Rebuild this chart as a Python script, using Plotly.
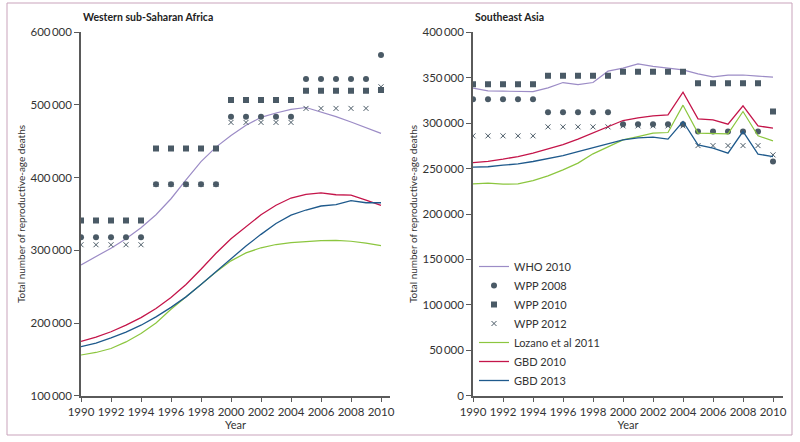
import plotly.graph_objects as go

years = list(range(1990, 2011))

# Western sub-Saharan Africa
wsa_who2010 = [280000, 291000, 303000, 316000, 331000, 349000, 371000, 397000, 422000, 442000, 458000,
               472000, 483000, 489000, 494000, 496500, 490500, 484000, 476500, 468500, 461000]
wsa_wpp2008 = [318000] * 5 + [390800] * 5 + [483800] * 5 + [535600] * 5 + [568600]
wsa_wpp2010 = [341000] * 5 + [440000] * 5 + [506900] * 5 + [519500] * 5 + [520500]
wsa_wpp2012 = [307700] * 5 + [390800] * 5 + [476000] * 5 + [495300] * 5 + [525000]
wsa_lozano = [156000, 159500, 165000, 174000, 185500, 200000, 219000, 236000, 253000, 270000, 285500,
              296500, 303500, 308000, 310500, 312300, 313500, 313800, 312500, 310000, 306500]
wsa_gbd2010 = [174800, 180500, 188000, 197000, 207500, 220000, 235000, 253000, 274000, 296000, 316000,
               333000, 349000, 362000, 372000, 377000, 379000, 376500, 376000, 369000, 362000]
wsa_gbd2013 = [167400, 172500, 179500, 187500, 197000, 208500, 221500, 236000, 253000, 271000, 289000,
               306000, 322000, 337000, 348500, 355500, 361000, 363000, 368500, 365500, 365500]

# Southeast Asia
sea_who2010 = [338500, 335600, 335200, 335000, 334800, 338900, 344700, 342500, 344700, 357200, 360600,
               365300, 362400, 360600, 358700, 354300, 351000, 352900, 353000, 351800, 350700]
sea_wpp2008 = [326400] * 5 + [312100] * 5 + [298900] * 5 + [290800] * 5 + [257700]
sea_wpp2010 = [342900] * 5 + [352100] * 5 + [356500] * 5 + [344000] * 5 + [312800]
sea_wpp2012 = [286000] * 5 + [295900] * 5 + [297000] * 5 + [275300] * 5 + [265100]
sea_lozano = [233200, 233900, 232800, 233200, 236800, 242000, 248600, 256000, 266200, 274200, 281600,
              285200, 289000, 289700, 319800, 289000, 288200, 288200, 312800, 286000, 280500]
sea_gbd2010 = [256600, 258000, 260400, 263200, 267000, 271300, 276400, 282400, 289000, 296300, 302900,
               305800, 308000, 309100, 334100, 304700, 303600, 298900, 319000, 297000, 294500]
sea_gbd2013 = [251500, 252000, 253700, 255200, 257800, 260700, 264300, 268700, 273100, 278000, 281600,
               283800, 284600, 282400, 301800, 276100, 272500, 267000, 290800, 265900, 263200]

x_ticks = list(range(1990, 2011, 2))
wsa_yticks = [100000, 200000, 300000, 400000, 500000, 600000]
sea_yticks = [0, 50000, 100000, 150000, 200000, 250000, 300000, 350000, 400000]

FONT = "Lato"
MARK = "#4a5a66"
colors = {"WHO 2010": "#9c8cc6", "Lozano et al 2011": "#8cc63f",
          "GBD 2010": "#c4154a", "GBD 2013": "#1f5a8c"}


def fmt(v):
    return f"{v:,}".replace(",", "\u2009")


fig = go.Figure()

panels = [
    ("x", "y", False, wsa_who2010, wsa_wpp2008, wsa_wpp2010, wsa_wpp2012, wsa_lozano, wsa_gbd2010, wsa_gbd2013),
    ("x2", "y2", True, sea_who2010, sea_wpp2008, sea_wpp2010, sea_wpp2012, sea_lozano, sea_gbd2010, sea_gbd2013),
]

for xa, ya, leg, who, w08, w10, w12, loz, g10, g13 in panels:
    fig.add_trace(go.Scatter(x=years, y=who, mode="lines", name="WHO 2010", showlegend=leg,
                             line=dict(color=colors["WHO 2010"], width=1.2), xaxis=xa, yaxis=ya))
    fig.add_trace(go.Scatter(x=years, y=w08, mode="markers", name="WPP 2008", showlegend=leg,
                             marker=dict(symbol="circle", size=6, color=MARK), xaxis=xa, yaxis=ya))
    fig.add_trace(go.Scatter(x=years, y=w10, mode="markers", name="WPP 2010", showlegend=leg,
                             marker=dict(symbol="square", size=6, color=MARK), xaxis=xa, yaxis=ya))
    fig.add_trace(go.Scatter(x=years, y=w12, mode="markers", name="WPP 2012", showlegend=leg,
                             marker=dict(symbol="x-thin", size=5, color=MARK,
                                         line=dict(color=MARK, width=1)), xaxis=xa, yaxis=ya))
    fig.add_trace(go.Scatter(x=years, y=loz, mode="lines", name="Lozano et al 2011", showlegend=leg,
                             line=dict(color=colors["Lozano et al 2011"], width=1.2), xaxis=xa, yaxis=ya))
    fig.add_trace(go.Scatter(x=years, y=g10, mode="lines", name="GBD 2010", showlegend=leg,
                             line=dict(color=colors["GBD 2010"], width=1.3), xaxis=xa, yaxis=ya))
    fig.add_trace(go.Scatter(x=years, y=g13, mode="lines", name="GBD 2013", showlegend=leg,
                             line=dict(color=colors["GBD 2013"], width=1.3), xaxis=xa, yaxis=ya))

axis_common = dict(showgrid=False, zeroline=False, showline=True, linecolor="#5a5a5a", linewidth=1.5,
                   ticks="outside", ticklen=5, tickcolor="#5a5a5a", tickwidth=1.2, automargin=False,
                   tickfont=dict(family=FONT, size=11.5, color="#333"))

ydom = [1 - 395.7 / 442, 1 - 32.3 / 442]
ytitle = "Total number of reproductive-age deaths"

fig.update_layout(
    width=800, height=442,
    margin=dict(l=0, r=0, t=0, b=0),
    paper_bgcolor="white", plot_bgcolor="white",
    font=dict(family=FONT, size=11, color="#333"),
    xaxis=dict(domain=[81 / 800, 390 / 800], range=[1990, 2010.6], tickvals=x_ticks,
               title=dict(text="Year", standoff=4, font=dict(size=11)), anchor="y", **axis_common),
    yaxis=dict(domain=ydom, range=[100000, 600000], tickvals=wsa_yticks,
               ticktext=[fmt(v) for v in wsa_yticks], anchor="x",
               title=dict(text=ytitle, standoff=3, font=dict(size=10)), **axis_common),
    xaxis2=dict(domain=[473 / 800, 783 / 800], range=[1990, 2010.667], tickvals=x_ticks,
                title=dict(text="Year", standoff=4, font=dict(size=11)), anchor="y2", **axis_common),
    yaxis2=dict(domain=ydom, range=[0, 400000], tickvals=sea_yticks,
                ticktext=[fmt(v) for v in sea_yticks], anchor="x2",
                title=dict(text=ytitle, standoff=3, font=dict(size=10)), **axis_common),
    legend=dict(x=474 / 800, y=1 - 252 / 442, xanchor="left", yanchor="top",
                font=dict(family=FONT, size=11, color="#333"), bgcolor="rgba(0,0,0,0)"),
    annotations=[
        dict(text="<b>Western sub-Saharan Africa</b>", x=81 / 800, y=1 - 17 / 442, xref="paper", yref="paper",
             xanchor="left", yanchor="middle", showarrow=False, font=dict(family=FONT, size=10.5, color="#222")),
        dict(text="<b>Southeast Asia</b>", x=473 / 800, y=1 - 17 / 442, xref="paper", yref="paper",
             xanchor="left", yanchor="middle", showarrow=False, font=dict(family=FONT, size=10.5, color="#222")),
    ],
    shapes=[dict(type="rect", xref="paper", yref="paper", x0=7 / 800, x1=792 / 800,
                 y0=1 - 435 / 442, y1=1 - 3 / 442, line=dict(color="#c9a3bb", width=1))],
)

# drop the browser's default page margin so the 800x442 figure fills the window
fig.write_html("out.html", config={"displayModeBar": False},
               post_script="document.body.style.margin='0';")
